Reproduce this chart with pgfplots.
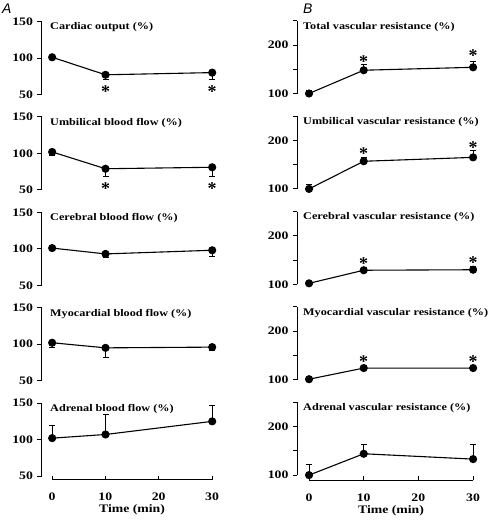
\documentclass[border=0pt]{standalone}
\usepackage{fontspec}
\setmainfont{Liberation Serif}
\newfontfamily\lblfont[FakeStretch=1.2]{Liberation Serif}
\newfontfamily\letterfont{Liberation Sans}
\usepackage{pgfplots}
\pgfplotsset{compat=1.18}
\tikzset{ttl/.style={anchor=west, font=\lblfont\bfseries\fontsize{10.2}{12}\selectfont, inner sep=0pt}}
\pgfplotsset{
  common/.style={scale only axis, clip=false, anchor=south west,
    axis x line=none, axis y line=left,
    axis line style={-, line width=1bp, black},
    tick style={line width=1bp, black}, major tick length=4bp, tick align=outside,
    tick label style={font=\lblfont\bfseries\fontsize{11.5}{12}\selectfont},
    /pgf/number format/assume math mode=true,
    yticklabel style={xshift=-1bp}},
  panelL/.style={common, width=170.7bp, height=73bp, xmin=-2, xmax=30, ymin=50, ymax=150,
    ytick={50,100,150}, yticklabels={50,100,150}},
  panelR/.style={common, width=176.1bp, height=72.75bp, xmin=-2.2, xmax=30, ymin=100, ymax=250,
    ytick={100,150,200,250}, yticklabels={100,,200,}},
  xaxisbox/.style={scale only axis, clip=false, anchor=south west, height=10bp,
    ymin=0, ymax=1, xmin=0, xmax=30, axis y line=none, axis x line=bottom,
    axis line style={-, line width=1bp, black},
    tick style={line width=1bp, black}, major tick length=4bp, tick align=inside,
    xtick={0,10,20,30}, xticklabels={0,10,20,30},
    x tick label style={font=\lblfont\bfseries\fontsize{11.5}{12}\selectfont, anchor=center, yshift=-17.5bp},
    xlabel={Time (min)}, xlabel style={font=\lblfont\bfseries\fontsize{11.5}{12}\selectfont,
      at={(axis description cs:0.5,0)}, anchor=center, yshift=-30.5bp}},
  series/.style={black, line width=1.1bp, mark=*, mark size=3.5bp, mark options={solid, fill=black},
    error bars/.cd, y explicit, y dir=#1,
    error bar style={line width=1bp, black},
    error mark options={black, mark size=3bp, line width=1bp, rotate=90}},
  star/.style={only marks, mark=text, text mark={\fontsize{18}{18}\selectfont\bfseries *}}
}
\begin{document}
\begin{tikzpicture}
\path[use as bounding box] (0bp,0bp) rectangle (497bp,-522bp);
\node[anchor=west, font=\letterfont\itshape\fontsize{14}{14}\selectfont, inner sep=0pt] at (2bp,-9bp) {A};
\node[anchor=west, font=\letterfont\itshape\fontsize{14}{14}\selectfont, inner sep=0pt] at (303bp,-9bp) {B};

% ---------- Left column ----------
\begin{axis}[panelL, at={(41.5bp,-94.5bp)}]
\addplot+[series=minus] coordinates {(0,101) -= (0,2) (10,77) -= (0,6) (30,80) -= (0,10)};
\addplot[star] coordinates {(10,54) (30,54)};
\node[ttl] at (rel axis cs:0,1) [xshift=8.5bp, yshift=-6bp] {Cardiac output (\%)};
\end{axis}
\begin{axis}[panelL, at={(41.5bp,-189.9bp)}]
\addplot+[series=minus] coordinates {(0,102) -= (0,5) (10,79) -= (0,11) (30,81) -= (0,13)};
\addplot[star] coordinates {(10,52) (30,52)};
\node[ttl] at (rel axis cs:0,1) [xshift=8.5bp, yshift=-6bp] {Umbilical blood flow (\%)};
\end{axis}
\begin{axis}[panelL, at={(41.5bp,-285.3bp)}]
\addplot+[series=minus] coordinates {(0,101) -= (0,2) (10,93) -= (0,5) (30,98) -= (0,8)};
\node[ttl] at (rel axis cs:0,1) [xshift=8.5bp, yshift=-6bp] {Cerebral blood flow (\%)};
\end{axis}
\begin{axis}[panelL, at={(41.5bp,-380.7bp)}]
\addplot+[series=minus] coordinates {(0,102) -= (0,7) (10,95) -= (0,13) (30,96) -= (0,4)};
\node[ttl] at (rel axis cs:0,1) [xshift=8.5bp, yshift=-6bp] {Myocardial blood flow (\%)};
\end{axis}
\begin{axis}[panelL, at={(41.5bp,-476.1bp)}]
\addplot+[series=plus] coordinates {(0,102) += (0,18) (10,107) += (0,28) (30,125) += (0,22)};
\node[ttl] at (rel axis cs:0,1) [xshift=8.5bp, yshift=-6bp] {Adrenal blood flow (\%)};
\end{axis}
\begin{axis}[xaxisbox, width=160bp, at={(52bp,-479.5bp)}]
\addplot[draw=none] coordinates {(0,0)};
\end{axis}

% ---------- Right column ----------
\begin{axis}[panelR, at={(297bp,-93.5bp)}]
\addplot+[series=plus] coordinates {(0,100) += (0,7) (10,148) += (0,12) (30,154) += (0,11)};
\addplot[star] coordinates {(10,166) (30,179)};
\node[ttl] at (rel axis cs:0,1) [xshift=6bp, yshift=-6bp] {Total vascular resistance (\%)};
\end{axis}
\begin{axis}[panelR, at={(297bp,-188.9bp)}]
\addplot+[series=plus] coordinates {(0,100) += (0,9) (10,157) += (0,8) (30,165) += (0,14)};
\addplot[star] coordinates {(10,172) (30,186)};
\node[ttl] at (rel axis cs:0,1) [xshift=6bp, yshift=-6bp] {Umbilical vascular resistance (\%)};
\end{axis}
\begin{axis}[panelR, at={(297bp,-284.3bp)}]
\addplot+[series=plus] coordinates {(0,102) += (0,2) (10,129) += (0,6) (30,130) += (0,6)};
\addplot[star] coordinates {(10,142) (30,145)};
\node[ttl] at (rel axis cs:0,1) [xshift=6bp, yshift=-6bp] {Cerebral vascular resistance (\%)};
\end{axis}
\begin{axis}[panelR, at={(297bp,-379.7bp)}]
\addplot+[series=plus] coordinates {(0,101) += (0,4) (10,124) += (0,4) (30,124) += (0,4)};
\addplot[star] coordinates {(10,137) (30,137)};
\node[ttl] at (rel axis cs:0,1) [xshift=6bp, yshift=-6bp] {Myocardial vascular resistance (\%)};
\end{axis}
\begin{axis}[panelR, at={(297bp,-475.1bp)}]
\addplot+[series=plus] coordinates {(0,100) += (0,21) (10,144) += (0,20) (30,133) += (0,31)};
\node[ttl] at (rel axis cs:0,1) [xshift=6bp, yshift=-6bp] {Adrenal vascular resistance (\%)};
\end{axis}
\begin{axis}[xaxisbox, width=164bp, at={(309bp,-480bp)}]
\addplot[draw=none] coordinates {(0,0)};
\end{axis}
\end{tikzpicture}
\end{document}
